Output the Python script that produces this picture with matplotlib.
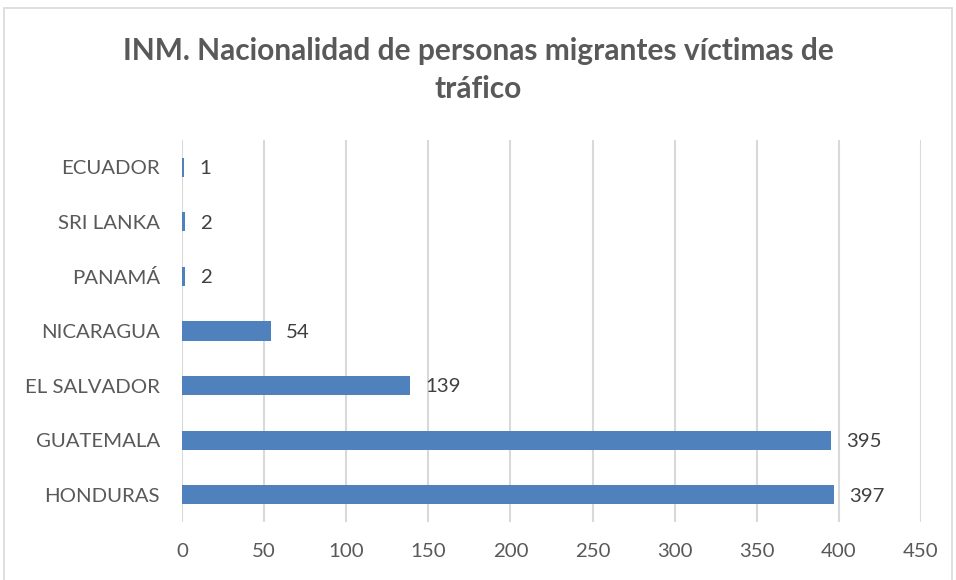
import matplotlib.pyplot as plt
from matplotlib.patches import Rectangle

# data (top to bottom as drawn)
countries = ['ECUADOR', 'SRI LANKA', 'PANAMÁ', 'NICARAGUA', 'EL SALVADOR', 'GUATEMALA', 'HONDURAS']
victims = [1, 2, 2, 54, 139, 395, 397]
x_ticks = [0, 50, 100, 150, 200, 250, 300, 350, 400, 450]
title = 'INM. Nacionalidad de personas migrantes víctimas de\ntráfico'

plt.rcParams['font.family'] = ['Lato', 'DejaVu Sans']

fig = plt.figure(figsize=(9.56, 5.8), dpi=100)
ax = fig.add_axes([0.1904, 0.10, 0.9634 - 0.1904, 0.6586])

# reverse so the first category sits at the top
pos = list(range(len(countries)))[::-1]
bars = ax.barh(pos, victims, height=0.35, color='#4f81bd', zorder=3)

for y, v in zip(pos, victims):
    ax.annotate(str(v), xy=(v, y), xytext=(11, -1), textcoords='offset points',
                va='center', ha='left', fontsize=14.7, color='#404040')

ax.set_xlim(0, 450)
ax.set_ylim(-0.5, len(countries) - 0.5)
ax.set_xticks(x_ticks)
ax.set_yticks(pos)
ax.set_yticklabels(countries)

ax.grid(axis='x', color='#d9d9d9', linewidth=1.5, zorder=0)
for s in ax.spines.values():
    s.set_visible(False)
ax.tick_params(axis='both', length=0, labelsize=14.7, colors='#595959')
ax.tick_params(axis='x', pad=15)
ax.tick_params(axis='y', pad=16)

fig.text(0.5, 0.879, title, ha='center', va='center', fontsize=21.5,
         fontweight='bold', color='#595959', linespacing=1.45)

# thin outer frame of the chart area
fig.patches.append(Rectangle((0.004, -0.01), 0.992, 0.996, transform=fig.transFigure,
                             fill=False, edgecolor='#d9d9d9', linewidth=1.2))

fig.savefig('out.png', dpi=100)
